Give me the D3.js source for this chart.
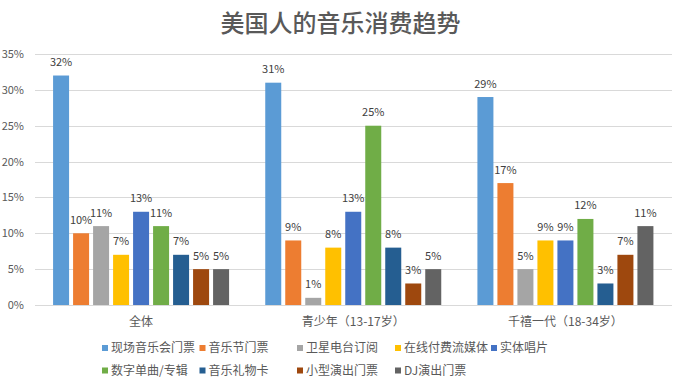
<!DOCTYPE html>
<html><head><meta charset="utf-8">
<script src="https://cdn.jsdelivr.net/npm/d3@7"></script>
<style>body{margin:0;background:#fff}svg{display:block}text{font-family:"Noto Sans CJK SC","Microsoft YaHei",sans-serif}</style>
</head><body><svg id="c" width="681" height="383"></svg>
<script>
const title = "美国人的音乐消费趋势";
const groups = ["全体", "青少年（13-17岁）", "千禧一代（18-34岁）"];
const seriesNames = ["现场音乐会门票","音乐节门票","卫星电台订阅","在线付费流媒体","实体唱片","数字单曲/专辑","音乐礼物卡","小型演出门票","DJ演出门票"];
const colors = ["#5B9BD5","#ED7D31","#A5A5A5","#FFC000","#4472C4","#70AD47","#255E91","#9E480E","#636363"];
const values = [
  [32,10,11,7,13,11,7,5,5],
  [31,9,1,8,13,25,8,3,5],
  [29,17,5,9,9,12,3,7,11]
];
const yTicks = [0,5,10,15,20,25,30,35];

const svg = d3.select("#c");
const L = 35, R = 671.5, T = 54, B = 305;
const x0 = d3.scaleBand().domain(groups).range([L, R]);
const bw = x0.bandwidth();
const x1 = d3.scaleBand().domain(seriesNames).range([bw/2 - 88, bw/2 + 88]).paddingInner(0.2);
const y = d3.scaleLinear().domain([0,35]).range([B, T]);

svg.append("text").attr("x", 340.5).attr("y", 32).attr("text-anchor","middle")
  .attr("font-size", 24).attr("font-weight", 500).attr("fill","#595959").text(title);

// gridlines
const yAxis = d3.axisLeft(y).tickValues(yTicks).tickFormat(d => d + "%").tickSize(-(R - L)).tickPadding(11);
const gy = svg.append("g").attr("transform", `translate(${L},0)`).call(yAxis);
gy.select(".domain").remove();
gy.selectAll(".tick line").attr("stroke", "#D9D9D9").attr("stroke-width", 1).attr("shape-rendering","crispEdges");
gy.selectAll(".tick text").attr("fill", "#595959").attr("font-size", 11);

// bars
const g = svg.append("g").selectAll("g").data(groups).join("g")
  .attr("transform", d => `translate(${x0(d)},0)`);
g.each(function(gname, gi) {
  const sel = d3.select(this);
  const data = seriesNames.map((s, si) => ({s, si, v: values[gi][si]}));
  sel.selectAll("rect").data(data).join("rect")
    .attr("x", d => x1(d.s)).attr("width", x1.bandwidth())
    .attr("y", d => y(d.v)).attr("height", d => B - y(d.v))
    .attr("fill", d => colors[d.si]);
  sel.selectAll("text.lbl").data(data).join("text").attr("class","lbl")
    .attr("x", d => x1(d.s) + x1.bandwidth()/2).attr("y", d => y(d.v) - 9.5)
    .attr("text-anchor","middle").attr("font-size", 11).attr("fill","#404040")
    .text(d => d.v + "%");
});

// x axis
const xAxis = d3.axisBottom(x0).tickSize(0).tickPadding(12);
const gx = svg.append("g").attr("transform", `translate(0,${B})`).call(xAxis);
gx.select(".domain").attr("stroke","#D9D9D9").attr("shape-rendering","crispEdges");
gx.selectAll(".tick text").attr("fill","#595959").attr("font-size", 12);

// legend
const colX = [102, 199.5, 297, 395, 491];
const leg = svg.append("g");
seriesNames.forEach((s, i) => {
  const row = i < 5 ? 0 : 1;
  const col = i < 5 ? i : i - 5;
  const cx = colX[col], cy = row === 0 ? 348 : 370.5;
  leg.append("rect").attr("x", cx).attr("y", cy - 3).attr("width", 6).attr("height", 6).attr("fill", colors[i]);
  leg.append("text").attr("x", cx + 9).attr("y", cy).attr("dy","0.35em")
    .attr("font-size", 12).attr("fill","#595959").text(s);
});
</script></body></html>
